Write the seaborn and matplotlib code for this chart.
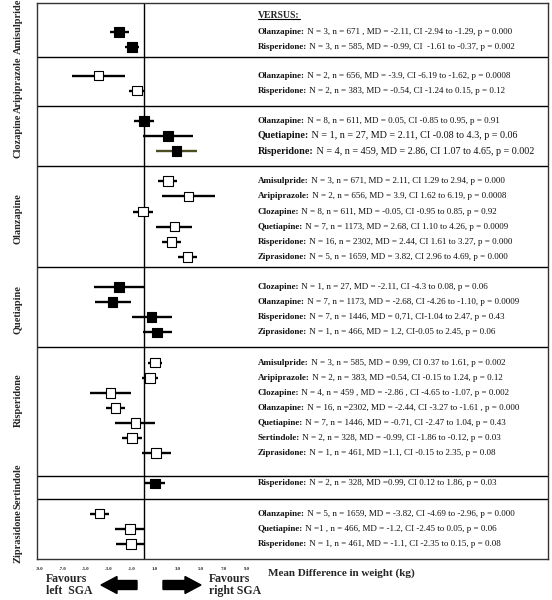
import pandas as pd
import matplotlib
matplotlib.use("Agg")
import matplotlib.pyplot as plt
import seaborn as sns
from matplotlib.patches import FancyArrow
from matplotlib.lines import Line2D
from matplotlib.transforms import IdentityTransform

# =========================
# Data
# =========================
groups = ["Amisulpride", "Aripiprazole", "Clozapine", "Olanzapine",
          "Quetiapine", "Risperidone", "Sertindole", "Ziprasidone"]
group_sizes = [2, 2, 3, 6, 4, 7, 1, 3]
group_filled = [True, False, True, False, True, False, True, False]

versus = [
    "Olanzapine", "Risperidone",
    "Olanzapine", "Risperidone",
    "Olanzapine", "Quetiapine", "Risperidone",
    "Amisulpride", "Aripiprazole", "Clozapine", "Quetiapine", "Risperidone", "Ziprasidone",
    "Clozapine", "Olanzapine", "Risperidone", "Ziprasidone",
    "Amisulpride", "Aripiprazole", "Clozapine", "Olanzapine", "Quetiapine", "Sertindole", "Ziprasidone",
    "Risperidone",
    "Olanzapine", "Quetiapine", "Risperidone",
]
md = [-2.11, -0.99,
      -3.9, -0.54,
      0.05, 2.11, 2.86,
      2.11, 3.9, -0.05, 2.68, 2.44, 3.82,
      -2.11, -2.68, 0.71, 1.2,
      0.99, 0.54, -2.86, -2.44, -0.71, -0.99, 1.1,
      0.99,
      -3.82, -1.2, -1.1]
ci_low = [-2.94, -1.61,
          -6.19, -1.24,
          -0.85, -0.08, 1.07,
          1.29, 1.62, -0.95, 1.10, 1.61, 2.96,
          -4.3, -4.26, -1.04, -0.05,
          0.37, -0.15, -4.65, -3.27, -2.47, -1.86, -0.15,
          0.12,
          -4.69, -2.45, -2.35]
ci_high = [-1.29, -0.37,
           -1.62, 0.15,
           0.95, 4.3, 4.65,
           2.94, 6.19, 0.85, 4.26, 3.27, 4.69,
           0.08, -1.10, 2.47, 2.45,
           1.61, 1.24, -1.07, -1.61, 1.04, -0.12, 2.35,
           1.86,
           -2.96, 0.05, 0.15]
stats_text = [
    "N = 3, n = 671 , MD = -2.11, CI -2.94 to -1.29, p = 0.000",
    "N = 3, n = 585, MD = -0.99, CI  -1.61 to -0.37, p = 0.002",
    "N = 2, n = 656, MD = -3.9, CI -6.19 to -1.62, p = 0.0008",
    "N = 2, n = 383, MD = -0.54, CI -1.24 to 0.15, p = 0.12",
    "N = 8, n = 611, MD = 0.05, CI -0.85 to 0.95, p = 0.91",
    "N = 1, n = 27, MD = 2.11, CI -0.08 to 4.3, p = 0.06",
    "N = 4, n = 459, MD = 2.86, CI 1.07 to 4.65, p = 0.002",
    "N = 3, n = 671, MD = 2.11, CI 1.29 to 2.94, p = 0.000",
    "N = 2, n = 656, MD = 3.9, CI 1.62 to 6.19, p = 0.0008",
    "N = 8, n = 611, MD = -0.05, CI -0.95 to 0.85, p = 0.92",
    "N = 7, n = 1173, MD = 2.68, CI 1.10 to 4.26, p = 0.0009",
    "N = 16, n = 2302, MD = 2.44, CI 1.61 to 3.27, p = 0.000",
    "N = 5, n = 1659, MD = 3.82, CI 2.96 to 4.69, p = 0.000",
    "N = 1, n = 27, MD = -2.11, CI -4.3 to 0.08, p = 0.06",
    "N = 7, n = 1173, MD = -2.68, CI -4.26 to -1.10, p = 0.0009",
    "N = 7, n = 1446, MD = 0,71, CI-1.04 to 2.47, p = 0.43",
    "N = 1, n = 466, MD = 1.2, CI-0.05 to 2.45, p = 0.06",
    "N = 3, n = 585, MD = 0.99, CI 0.37 to 1.61, p = 0.002",
    "N = 2, n = 383, MD =0.54, CI -0.15 to 1.24, p = 0.12",
    "N = 4, n = 459 , MD = -2.86 , CI -4.65 to -1.07, p = 0.002",
    "N = 16, n =2302, MD = -2.44, CI -3.27 to -1.61 , p = 0.000",
    "N = 7, n = 1446, MD = -0.71, CI -2.47 to 1.04, p = 0.43",
    "N = 2, n = 328, MD = -0.99, CI -1.86 to -0.12, p = 0.03",
    "N = 1, n = 461, MD =1.1, CI -0.15 to 2.35, p = 0.08",
    "N = 2, n = 328, MD =0.99, CI 0.12 to 1.86, p = 0.03",
    "N = 5, n = 1659, MD = -3.82, CI -4.69 to -2.96, p = 0.000",
    "N =1 , n = 466, MD = -1.2, CI -2.45 to 0.05, p = 0.06",
    "N = 1, n = 461, MD = -1.1, CI -2.35 to 0.15, p = 0.08",
]
x_ticks = [-9, -7, -5, -3, -1, 1, 3, 5, 7, 9]

# =========================
# Row layout (one unit per row, one free row between groups)
# =========================
ypos, group_col, filled_col = [], [], []
separators, group_centers = [], []
top = 0
for i, (g, n) in enumerate(zip(groups, group_sizes)):
    start = top + (1.9 if i == 0 else 1)
    for k in range(n):
        ypos.append(start + k)
        group_col.append(g)
        filled_col.append(group_filled[i])
    bottom = start + n - (0.1 if i == 0 else 0)
    group_centers.append((top + bottom) / 2)
    separators.append(bottom)
    top = bottom

# small nudges so the rotated labels do not collide
label_shift = [-0.35, 0.1, 0, 0, 0, -0.5, 0.2, 0.5]
sep_shift = [-0.2, 0, 0, -0.3, 0, 0.5, 0, 0]

df = pd.DataFrame({
    "group": group_col, "versus": versus, "md": md,
    "lo": ci_low, "hi": ci_high, "y": ypos, "filled": filled_col,
    "text": stats_text,
})

# =========================
# Figure
# =========================
sns.set_style("white")
plt.rcParams["font.family"] = ["Liberation Serif", "DejaVu Serif"]

fig = plt.figure(figsize=(5.52, 6.0), dpi=100)
ax = fig.add_axes([37 / 552, 1 - 559 / 600, 511 / 552, 556 / 600])

line_colors = ["black"] * len(df)
line_colors[6] = "#4d4d22"
ax.hlines(df["y"], df["lo"], df["hi"], colors=line_colors, lw=1.7, zorder=2)

sns.scatterplot(data=df, x="md", y="y", hue="filled",
                palette={True: "black", False: "white"},
                marker="s", s=48, edgecolor="black", linewidth=0.8,
                legend=False, zorder=3, ax=ax)

ax.axvline(0, color="black", lw=1, zorder=1)
for s, d in zip(separators[:-1], sep_shift):
    ax.axhline(s + d, color="black", lw=1)

ax.set_xlim(-9.26, 35.17)
ax.set_ylim(top, 0)
ax.set_xlabel("")
ax.set_ylabel("")
ax.set_yticks([])
ax.set_xticks(x_ticks)
ax.set_xticklabels([f"{t:.1f}" for t in x_ticks], fontsize=3.5, fontweight="bold")
ax.tick_params(axis="x", length=2, width=0.6, pad=4, direction="out")
for sp in ax.spines.values():
    sp.set_color("#333333")
    sp.set_linewidth(1)

# group labels on the left
for g, c, d in zip(groups, group_centers, label_shift):
    ax.text(-0.037, c + d, g, transform=ax.get_yaxis_transform(), rotation=90,
            ha="center", va="center", fontsize=7.5, fontweight="bold")

# comparison texts on the right
header = ax.text(9.95, 0.85, "VERSUS:", ha="left", va="center",
                 fontsize=7, fontweight="bold")
for i, row in df.iterrows():
    fs = 7.3 if i in (5, 6) else 6.5
    name = ax.text(9.95, row["y"], row["versus"] + ":", ha="left", va="center",
                   fontsize=fs, fontweight="bold", color="#111111")
    ax.annotate(" " + row["text"], xy=(1, 0), xycoords=name,
                ha="left", va="bottom", fontsize=fs, color="#111111")

# bottom annotations
fig.text(268 / 552, 1 - 573 / 600, "Mean Difference in weight (kg)",
         ha="left", va="center", fontsize=8, fontweight="bold")
fig.text(46 / 552, 1 - 585 / 600, "Favours\nleft  SGA", ha="left", va="center",
         fontsize=8.5, fontweight="bold", linespacing=1.1)
fig.text(209 / 552, 1 - 585 / 600, "Favours\nright SGA", ha="left", va="center",
         fontsize=8.5, fontweight="bold", linespacing=1.1)

fig.add_artist(FancyArrow(137, 15, -36, 0, width=9, head_width=17, head_length=16,
                          length_includes_head=True, color="black",
                          transform=IdentityTransform()))
fig.add_artist(FancyArrow(163, 15, 38, 0, width=9, head_width=17, head_length=16,
                          length_includes_head=True, color="black",
                          transform=IdentityTransform()))

# underline VERSUS:
fig.canvas.draw()
bb = header.get_window_extent()
fig.add_artist(Line2D([bb.x0, bb.x1], [bb.y0 + 1.5, bb.y0 + 1.5], color="black",
                      lw=0.8, transform=IdentityTransform()))

fig.savefig("out.png", dpi=100)
